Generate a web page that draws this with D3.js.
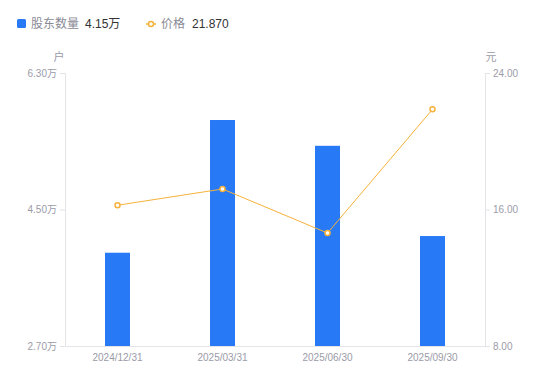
<!DOCTYPE html>
<html>
<head>
<meta charset="utf-8">
<script src="https://cdn.jsdelivr.net/npm/d3@7"></script>
<style>
  body { margin: 0; background: #fff; font-family: "Noto Sans CJK SC", "Liberation Sans", sans-serif; }
  .tick text { fill: #9b9ba8; font-size: 10px; }
</style>
</head>
<body>
<div id="chart"></div>
<script>
const dates = ["2024/12/31", "2025/03/31", "2025/06/30", "2025/09/30"];
const holders = [3.93, 5.68, 5.34, 4.15];   // 万户
const prices = [16.25, 17.20, 14.62, 21.87]; // 元
const leftTicks = [2.7, 4.5, 6.3];
const rightTicks = [8, 16, 24];

const W = 550, H = 381;
const m = { left: 65, right: 65, top: 73, bottom: 35 };
const innerW = W - m.left - m.right, innerH = H - m.top - m.bottom;
const numFont = '"Liberation Sans", "Noto Sans CJK SC", sans-serif';

const svg = d3.select('#chart').append('svg')
    .attr('width', W).attr('height', H);
const g = svg.append('g').attr('transform', 'translate(' + m.left + ',' + m.top + ')');

const x = d3.scaleBand().domain(dates).range([0, innerW]);
const yL = d3.scaleLinear().domain([2.7, 6.3]).range([innerH, 0]);
const yR = d3.scaleLinear().domain([8, 24]).range([innerH, 0]);

const axisColor = '#e3e3e8';

// left axis
const left = g.append('g')
    .call(d3.axisLeft(yL).tickValues(leftTicks).tickSize(5).tickPadding(3).tickFormat(d => d.toFixed(2) + '万'));
// right axis
const right = g.append('g').attr('transform', 'translate(' + innerW + ',0)')
    .call(d3.axisRight(yR).tickValues(rightTicks).tickSize(5).tickPadding(3).tickFormat(d => d.toFixed(2)));
// bottom axis
const bottom = g.append('g').attr('transform', 'translate(0,' + innerH + ')')
    .call(d3.axisBottom(x).tickSize(0).tickPadding(8));

[left, right, bottom].forEach(a => {
    a.select('.domain').attr('stroke', axisColor);
    a.selectAll('.tick line').attr('stroke', axisColor);
    a.selectAll('.tick text').attr('fill', '#9b9ba8').style('font-size', '10px')
        .style('font-family', numFont);
});

// axis unit labels
g.append('text').attr('x', -6).attr('y', -12).attr('text-anchor', 'middle')
    .attr('fill', '#9b9ba8').style('font-size', '11px').text('户');
g.append('text').attr('x', innerW + 6).attr('y', -12).attr('text-anchor', 'middle')
    .attr('fill', '#9b9ba8').style('font-size', '11px').text('元');

// bars
const barW = 25;
g.selectAll('.bar').data(holders).enter().append('rect')
    .attr('class', 'bar')
    .attr('x', (d, i) => x(dates[i]) + x.bandwidth() / 2 - barW / 2)
    .attr('y', d => yL(d))
    .attr('width', barW)
    .attr('height', d => innerH - yL(d))
    .attr('fill', '#2779f6');

// price line
const lineColor = '#f6b23a';
const line = d3.line()
    .x((d, i) => x(dates[i]) + x.bandwidth() / 2)
    .y(d => yR(d));
g.append('path').datum(prices)
    .attr('d', line).attr('fill', 'none')
    .attr('stroke', lineColor).attr('stroke-width', 1);
g.selectAll('.pt').data(prices).enter().append('circle')
    .attr('class', 'pt')
    .attr('cx', (d, i) => x(dates[i]) + x.bandwidth() / 2)
    .attr('cy', d => yR(d))
    .attr('r', 2.5)
    .attr('fill', '#fff').attr('stroke', lineColor).attr('stroke-width', 1.5);

// legend
const lg = svg.append('g').attr('transform', 'translate(17,24)');
lg.append('rect').attr('x', 0).attr('y', -5).attr('width', 9).attr('height', 9).attr('rx', 1.5).attr('fill', '#2779f6');
lg.append('text').attr('x', 14).attr('y', 4).attr('fill', '#8a8a96').style('font-size', '12px').text('股东数量');
lg.append('text').attr('x', 68).attr('y', 4).attr('fill', '#333').style('font-size', '12px')
    .style('font-family', numFont).text(holders[holders.length - 1].toFixed(2) + '万');

lg.append('line').attr('x1', 129).attr('x2', 139).attr('y1', 0).attr('y2', 0).attr('stroke', lineColor).attr('stroke-width', 1.5);
lg.append('circle').attr('cx', 134).attr('cy', 0).attr('r', 2.5).attr('fill', '#fff').attr('stroke', lineColor).attr('stroke-width', 1.5);
lg.append('text').attr('x', 144).attr('y', 4).attr('fill', '#8a8a96').style('font-size', '12px').text('价格');
lg.append('text').attr('x', 175).attr('y', 4).attr('fill', '#333').style('font-size', '12px')
    .style('font-family', numFont).text(prices[prices.length - 1].toFixed(3));
</script>
</body>
</html>
